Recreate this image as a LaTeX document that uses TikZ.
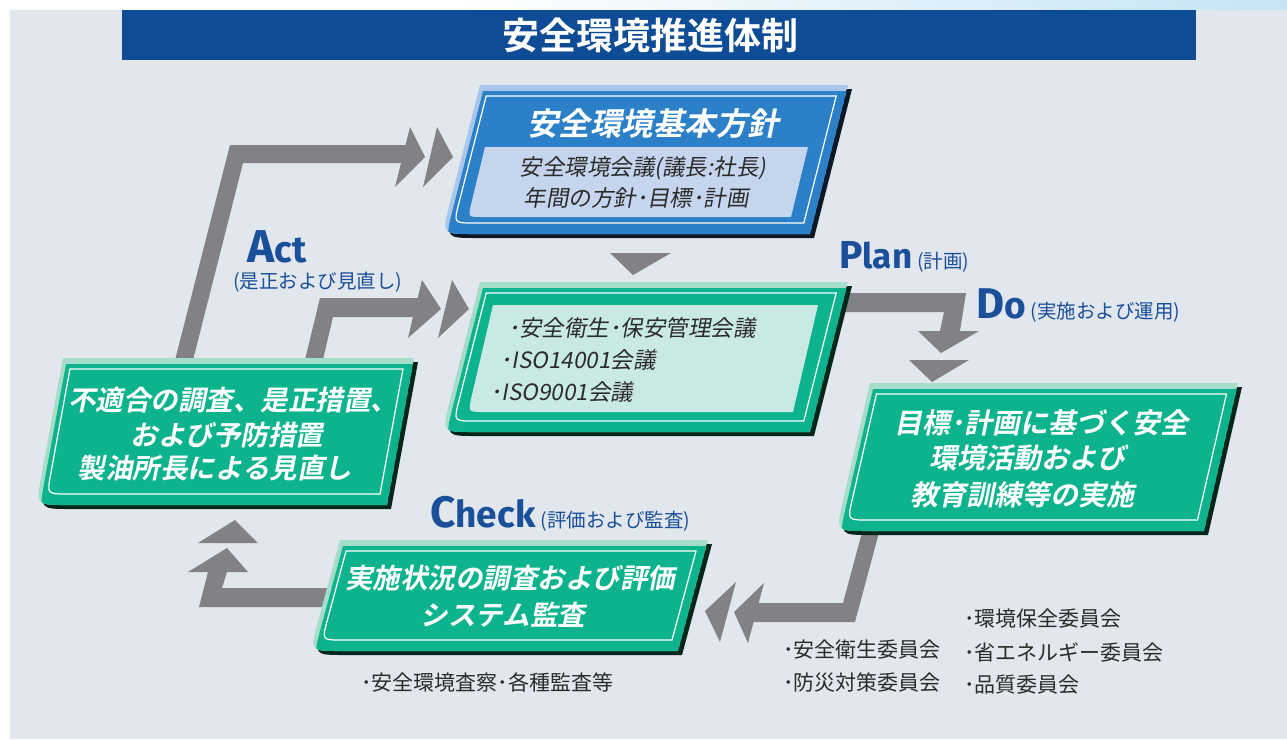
\documentclass[tikz,border=0pt]{standalone}
\usepackage{fontspec}
\usetikzlibrary{calc}
\newfontfamily\jp{Noto Sans CJK JP}
\newfontfamily\jpsl[FakeSlant=0.18]{Noto Sans CJK JP}
\newfontfamily\jpb{Noto Sans CJK JP Bold}
\newfontfamily\jpbsl[FakeSlant=0.2]{Noto Sans CJK JP Bold}
\newfontfamily\latb{Fira Sans Bold}
\newcommand\fsz[1]{\fontsize{#1}{#1}\selectfont}
\definecolor{bg}{HTML}{E1E7EC}
\definecolor{titlebar}{HTML}{0F4C96}
\definecolor{arrowgray}{HTML}{818186}
\definecolor{bluemain}{HTML}{2B80C8}
\definecolor{bluelight}{HTML}{A9C7EA}
\definecolor{bluepanel}{HTML}{C6D5EE}
\definecolor{bluedark}{HTML}{0C1826}
\definecolor{greenmain}{HTML}{0DB38C}
\definecolor{greenlight}{HTML}{A6DCCA}
\definecolor{greenpanel}{HTML}{C9E9E5}
\definecolor{greendark}{HTML}{05261B}
\definecolor{blueword}{HTML}{1A4F9A}
\definecolor{textdark}{HTML}{2B2B2B}
\definecolor{skyblue}{HTML}{C4E4F4}
% slanted slab: tlx trx ty by slant radius style
\newcommand\slab[7]{\path[#7] (#1,#3) -- (#2,#3) -- ({#2-#5},#4) -- ({#1-#5+#6},#4) .. controls ({#1-#5},#4) .. ({#1-#5+#6*#5/veclen(#5,#4-#3)},{#4-#6*(#4-#3)/veclen(#5,#4-#3)}) -- cycle;}
% inset slab: tlx trx ty by s r dx dy style
\newcommand\slabin[9]{%
  \pgfmathsetmacro\slabA{#1-#5*#8/(#4-#3)+#7}%
  \pgfmathsetmacro\slabB{#2-#5*#8/(#4-#3)-#7}%
  \pgfmathsetmacro\slabT{#3+#8}%
  \pgfmathsetmacro\slabU{#4-#8}%
  \pgfmathsetmacro\slabS{#5*(#4-#3-2*#8)/(#4-#3)}%
  \slab{\slabA}{\slabB}{\slabT}{\slabU}{\slabS}{#6}{#9}}
% 3D box: tlx trx ty by s main light dark
\newcommand\slabbox[8]{%
  \begin{scope}[shift={(4,4)}]\slab{#1}{#2}{#3}{#4}{#5}{30}{fill=#8}\end{scope}
  \begin{scope}
    \slab{#1}{#2}{#3}{#4}{#5}{30}{clip}
    \slab{#1}{#2}{#3}{#4}{#5}{30}{fill=#7}
    \begin{scope}[shift={(3,6)}]\slab{#1}{#2}{#3}{#4}{#5}{30}{fill=#6}\end{scope}
  \end{scope}}
\tikzset{
  blockarrow/.style={fill=arrowgray},
  whiteline/.style={draw=white,line width=1.2pt},
  boxtitle/.style={inner sep=0pt,text=white,font={\jpbsl\fsz{27.5}}},
  listtext/.style={inner sep=0pt,anchor=west,text=textdark,font={\jp\fsz{21}}},
  innertext/.style={inner sep=0pt,text=textdark,font={\jpsl\fsz{22.5}}},
  pdca/.style={inner sep=0pt,anchor=base west,text=blueword}
}
\begin{document}
\begin{tikzpicture}[x=1pt,y=-1pt]
\useasboundingbox (0,0) rectangle (1287,739);
% background
\fill[white] (0,0) rectangle (1287,739);
\shade[left color=white,right color=skyblue] (450,0) rectangle (1287,12);
\fill[bg] (10,10) rectangle (1287,739);
% title bar
\fill[titlebar] (122,10) rectangle (1196,60);
\node[inner sep=0pt,text=white,font={\jpb\fsz{37}}] (title) at (650,35) {安全環境推進体制};

% ---- block arrows ----
% Act outer
\path[blockarrow] (173,368) -- (230,145) -- (405.5,145) -- (410,127) -- (425,157) -- (395,187) -- (401,163) -- (243,163) -- (191,368) -- cycle;
\path[blockarrow] (437,127) -- (453,157) -- (423,187) -- cycle;
% Act inner
\path[blockarrow] (303,368) -- (320,298) -- (417.7,298) -- (422,280) -- (441,309) -- (408,338) -- (413,317) -- (333,317) -- (321,368) -- cycle;
\path[blockarrow] (452,280) -- (469,309) -- (438,338) -- cycle;
% Plan
\path[blockarrow] (610,253) -- (671,253) -- (633,275) -- cycle;
% Do
\path[blockarrow] (835,293) -- (966,293) -- (960,331) -- (979,331) -- (941,353) -- (918,331) -- (940,331) -- (944,312) -- (835,312) -- cycle;
\path[blockarrow] (909,360) -- (969,360) -- (932,382) -- cycle;
% Check
\path[blockarrow] (864,525) -- (881,525) -- (855,622) -- (753.6,622) -- (748,643) -- (734,612) -- (764,583) -- (758.7,603) -- (843,603) -- cycle;
\path[blockarrow] (736,582) -- (705,611) -- (720,642) -- cycle;
% Check -> Act
\path[blockarrow] (332,588) -- (332,607) -- (199,607) -- (208,572) -- (188,572) -- (227,548) -- (248,572) -- (227,572) -- (222,588) -- cycle;
\path[blockarrow] (198,543) -- (235,520) -- (258,543) -- cycle;

% ---- boxes ----
% top (blue)
\slabbox{480}{848}{85}{234}{38}{bluemain}{bluelight}{bluedark}
\slabin{480}{848}{85}{234}{38}{20}{9}{11}{whiteline}
\slab{485}{808}{147}{217}{17}{14}{fill=bluepanel}
% middle (green)
\slabbox{480}{848}{282}{432}{38}{greenmain}{greenlight}{greendark}
\slabin{480}{848}{282}{432}{38}{20}{9}{11}{whiteline}
\slab{493}{818}{305}{412}{25}{16}{fill=greenpanel}
% left
\slabbox{63}{414}{358}{505}{27}{greenmain}{greenlight}{greendark}
\slabin{63}{414}{358}{505}{27}{20}{9}{11}{whiteline}
% right
\slabbox{870}{1238}{383}{531}{34}{greenmain}{greenlight}{greendark}
\slabin{870}{1238}{383}{531}{34}{20}{9}{11}{whiteline}
% check
\slabbox{340}{708}{540}{651}{30}{greenmain}{greenlight}{greendark}
\slabin{340}{708}{540}{651}{30}{20}{9}{11}{whiteline}

% ---- texts ----
\node[boxtitle,font={\jpbsl\fsz{31.5}}] (policy) at (653,124) {安全環境基本方針};
\node[innertext] (policy2) at (643,168) {安全環境会議(議長:社長)};
\node[innertext] (policy3) at (636,198) {年間の方針･目標･計画};

\node[innertext,anchor=west] (mid1) at (508,328) {･安全衛生･保安管理会議};
\node[innertext,anchor=west] (mid2) at (500,360) {･ISO14001会議};
\node[innertext,anchor=west] (mid3) at (490,392) {･ISO9001会議};

\node[boxtitle] (left1) at (233,400) {不適合の調査、是正措置、};
\node[boxtitle] (left2) at (227,435) {および予防措置};
\node[boxtitle] (left3) at (215,468) {製油所長による見直し};

\node[boxtitle,font={\jpbsl\fsz{28}}] (right1) at (1041,423) {目標･計画に基づく安全};
\node[boxtitle,font={\jpbsl\fsz{28}}] (right2) at (1027,458) {環境活動および};
\node[boxtitle,font={\jpbsl\fsz{28}}] (right3) at (1022,495) {教育訓練等の実施};

\node[boxtitle] (chk1) at (510,578) {実施状況の調査および評価};
\node[boxtitle] (chk2) at (503,615) {システム監査};

% PDCA labels
\node[pdca] (act) at (247,262) {\latb\fsz{46}A\fsz{37}ct};
\node[inner sep=0pt,anchor=west,text=blueword,font={\jp\fsz{19.5}}] (actj) at (233,282) {(是正および見直し)};
\node[pdca] (plan) at (839,268) {\latb\fsz{39}P\fsz{35}lan\hspace{5pt}\jp\fsz{19.5}(計画)};
\node[pdca] (do) at (976,318) {\latb\fsz{43}D\fsz{37}o\hspace{5pt}\jp\fsz{19.5}(実施および運用)};
\node[pdca] (check) at (430,527) {\latb\fsz{44}C\fsz{37}heck\hspace{5pt}\jp\fsz{19.5}(評価および監査)};

% lists
\node[listtext] (l1) at (361,682) {･安全環境査察･各種監査等};
\node[listtext] (l2) at (783,650) {･安全衛生委員会};
\node[listtext] (l3) at (783,683) {･防災対策委員会};
\node[listtext] (l4) at (964,619) {･環境保全委員会};
\node[listtext] (l5) at (964,652) {･省エネルギー委員会};
\node[listtext] (l6) at (964,685) {･品質委員会};
\end{tikzpicture}
\end{document}
